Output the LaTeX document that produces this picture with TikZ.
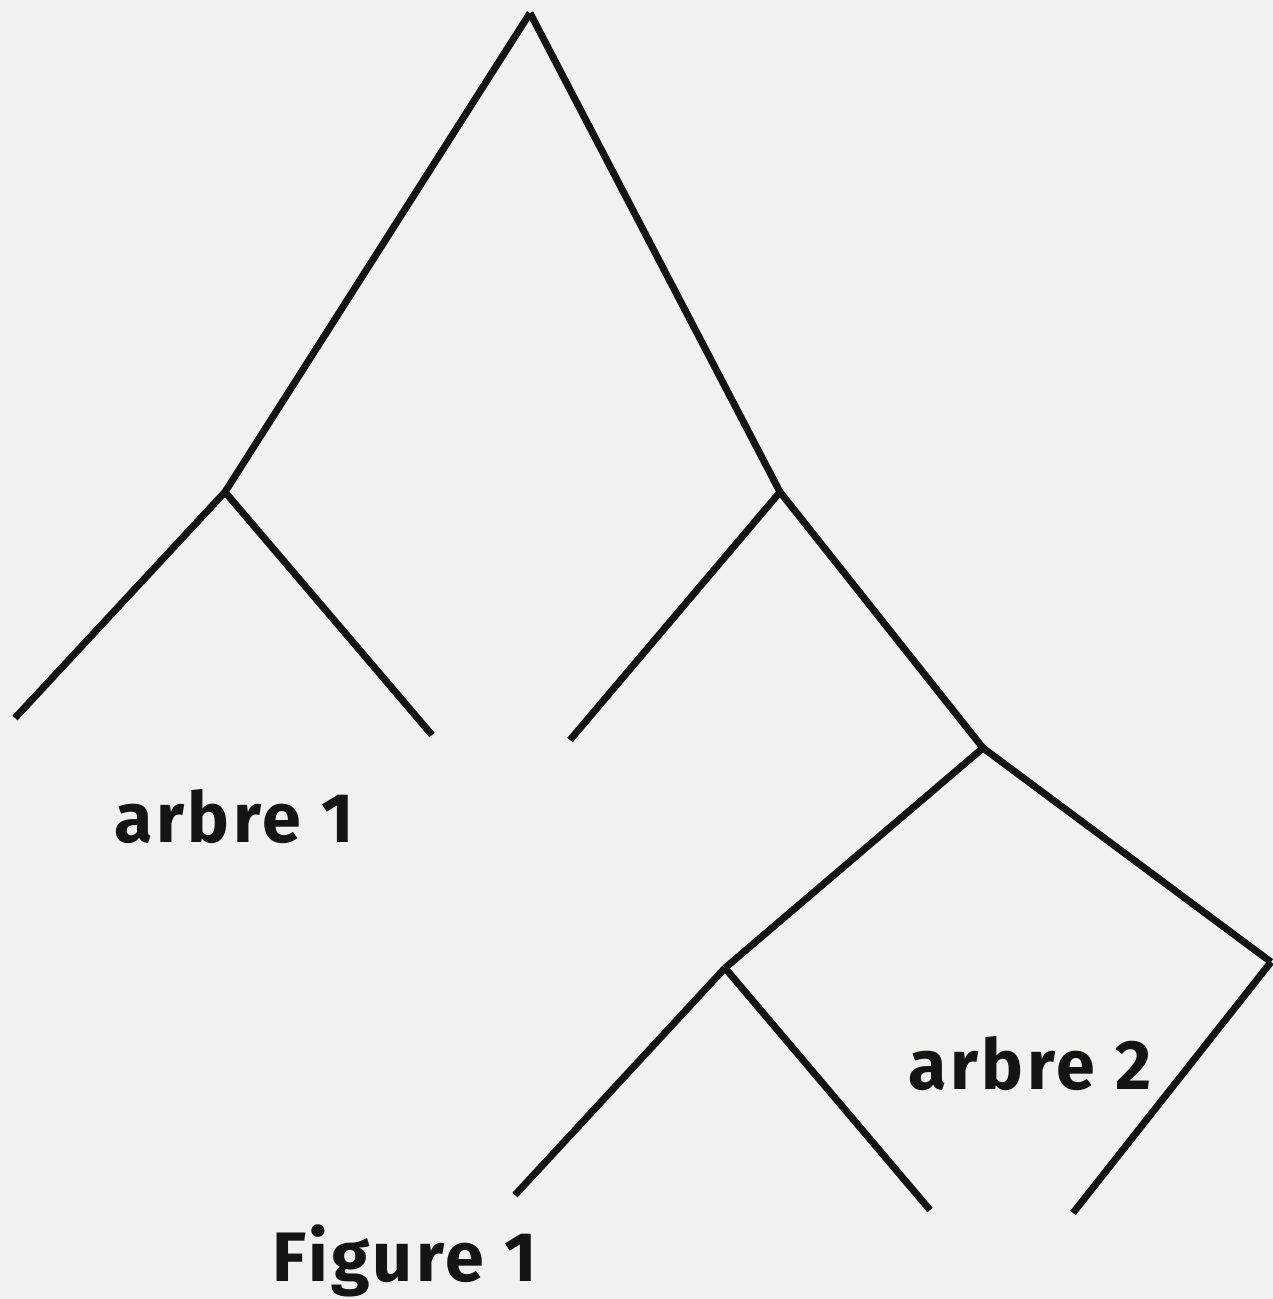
\documentclass[tikz,border=0pt]{standalone}
\usepackage{fontspec}
\newfontfamily\labelfont[LetterSpace=5]{Fira Sans}
\usepackage{xcolor}
\usepackage{tikz}
\definecolor{trpaper}{HTML}{F1F1EF}
\definecolor{trink}{HTML}{141414}
\newcommand{\branch}[2]{%
  \draw[draw=trink,line width=7pt] (#1) -- (#2);
}
\newcommand{\treelabel}[4]{%
  \node[anchor=base,font=\labelfont\bfseries\fontsize{70}{72}\selectfont,
    text=trink] (#1) at (#2,#3) {#4};
}

\begin{document}
\begin{tikzpicture}[x=1pt,y=1pt,line cap=butt,line join=miter]
\useasboundingbox (0,0) rectangle (1273,1299);
\fill[trpaper] (0,0) rectangle (1273,1299);

% Joints of the tree.
\coordinate (root) at (530,1286);
\coordinate (left) at (225,807);
\coordinate (right) at (780,807);
\coordinate (rr) at (983,551);
\coordinate (rrl) at (725,331);
\coordinate (rrr) at (1271,337);

% Leaves.
\coordinate (leaf1) at (15,581);
\coordinate (leaf2) at (432,564);
\coordinate (leaf3) at (570,559);
\coordinate (leaf4) at (515,104);
\coordinate (leaf5) at (930,89);
\coordinate (leaf6) at (1073,86);

% Branches.
\branch{root}{left}
\branch{root}{right}
\branch{left}{leaf1}
\branch{left}{leaf2}
\branch{right}{leaf3}
\branch{right}{rr}
\branch{rr}{rrl}
\branch{rr}{rrr}
\branch{rrl}{leaf4}
\branch{rrl}{leaf5}
\branch{rrr}{leaf6}

% Labels.
\treelabel{arbre1}{234}{456}{arbre 1}
\treelabel{arbre2}{1030}{209}{arbre 2}
\treelabel{fig}{405}{17}{Figure 1}

\end{tikzpicture}
\end{document}
